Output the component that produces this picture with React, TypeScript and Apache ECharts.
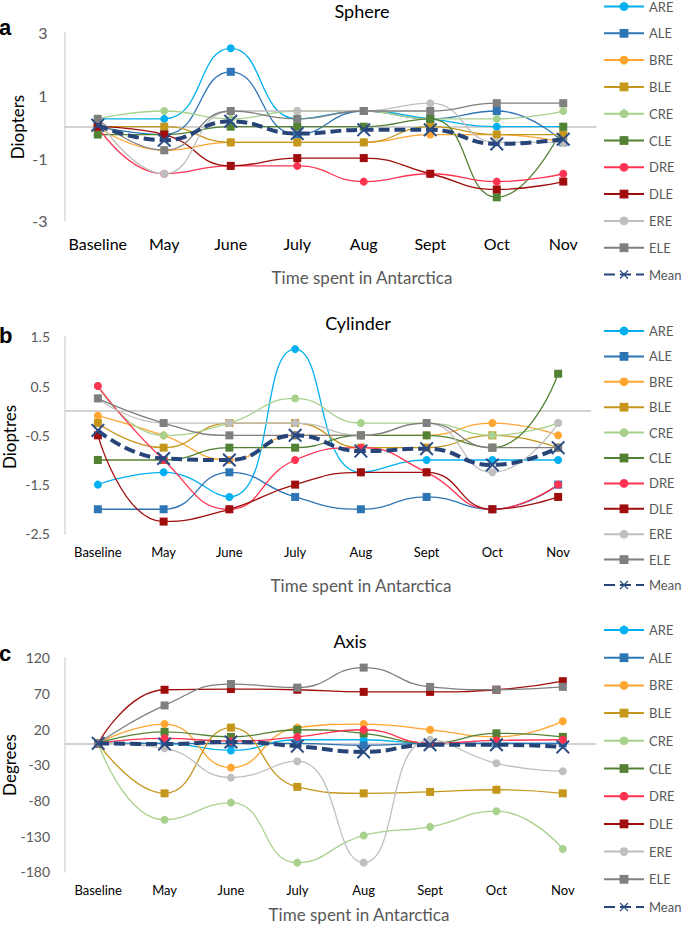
import React, { useEffect, useRef } from 'react';
import * as echarts from 'echarts';

const MONTHS = ['Baseline', 'May', 'June', 'July', 'Aug', 'Sept', 'Oct', 'Nov'];
const NAMES = ['ARE', 'ALE', 'BRE', 'BLE', 'CRE', 'CLE', 'DRE', 'DLE', 'ERE', 'ELE'];
const MEAN_NAME = 'Mean';

// Sphere (Diopters)
const SPH_ARE = [0.25, 0.25, 2.5, 0.25, 0.5, 0.25, 0, 0];
const SPH_ALE = [0, -0.25, 1.75, -0.25, 0.5, 0.25, 0.5, -0.5];
const SPH_BRE = [0, -0.75, -0.5, -0.5, -0.5, -0.25, -0.25, -0.5];
const SPH_BLE = [0, 0, -0.5, -0.5, -0.5, 0, -0.25, -0.25];
const SPH_CRE = [0.25, 0.5, 0.25, 0.5, 0.5, 0.25, 0.25, 0.5];
const SPH_CLE = [-0.25, -0.25, 0, 0, 0, 0.25, -2.25, 0];
const SPH_DRE = [0, -1.5, -1.25, -1.25, -1.75, -1.5, -1.75, -1.5];
const SPH_DLE = [0, -0.25, -1.25, -1, -1, -1.5, -2, -1.75];
const SPH_ERE = [0.25, -1.5, 0.5, 0.5, 0.5, 0.75, -0.5, -0.5];
const SPH_ELE = [0.25, -0.75, 0.5, 0.25, 0.5, 0.5, 0.75, 0.75];
const SPH_MEAN = [0.05, -0.43, 0.17, -0.22, -0.1, -0.1, -0.55, -0.4];
const SPH_TICKS = [3, 1, -1, -3];

// Cylinder (Dioptres)
const CYL_ARE = [-1.5, -1.25, -1.75, 1.25, -1.25, -1, -1, -1];
const CYL_ALE = [-2, -2, -1.25, -1.75, -2, -1.75, -2, -1.5];
const CYL_BRE = [-0.1, -0.5, -1, -0.5, -0.5, -0.5, -0.25, -0.5];
const CYL_BLE = [-0.25, -0.75, -0.25, -0.25, -0.75, -0.75, -0.5, -0.75];
const CYL_CRE = [0.5, -0.5, -0.25, 0.25, -0.25, -0.25, -0.5, -0.25];
const CYL_CLE = [-1, -1, -0.75, -0.75, -0.5, -0.5, -0.75, 0.75];
const CYL_DRE = [0.5, -1, -2, -1, -0.75, -1.25, -2, -1.5];
const CYL_DLE = [-0.5, -2.25, -2, -1.5, -1.25, -1.25, -2, -1.75];
const CYL_ERE = [0.25, -0.25, -0.25, -0.25, -0.5, -0.25, -1.25, -0.25];
const CYL_ELE = [0.25, -0.25, -0.5, -0.5, -0.5, -0.25, -0.75, -0.75];
const CYL_MEAN = [-0.4, -0.97, -1.0, -0.5, -0.82, -0.77, -1.1, -0.75];
const CYL_TICKS = [1.5, 0.5, -0.5, -1.5, -2.5];

// Axis (Degrees)
const AX_ARE = [0, 0, -10, 5, 5, 0, 0, 0];
const AX_ALE = [0, 0, 0, 0, -3, 0, 0, 0];
const AX_BRE = [0, 27, -34, 22, 27, 19, 9, 31];
const AX_BLE = [0, -70, 22, -61, -70, -68, -65, -70];
const AX_CRE = [0, -107, -83, -167, -129, -117, -95, -148];
const AX_CLE = [0, 16, 9, 19, 14, 0, 14, 9];
const AX_DRE = [0, 7, 3, 9, 19, 0, 4, 5];
const AX_DLE = [0, 75, 76, 75, 72, 72, 75, 87];
const AX_ERE = [0, -7, -48, -25, -167, 5, -28, -39];
const AX_ELE = [0, 53, 83, 78, 106, 79, 75, 79];
const AX_MEAN = [0, -1, 2, -4, -12, -2, -2, -5];
const AX_TICKS = [120, 70, 20, -30, -80, -130, -180];

const COLORS = ['#00B0F0', '#2E75B6', '#FFA632', '#C5961C', '#A9D18E', '#548235', '#FF3352', '#A00D0D', '#BFBFBF', '#7F7F7F'];
const MEAN_COLOR = '#264478';
const X_SYMBOL = 'path://M1,0 L5,4 L9,0 L10,1 L6,5 L10,9 L9,10 L5,6 L1,10 L0,9 L4,5 L0,1 Z';
const FONT = 'Lato, "Open Sans", sans-serif';

const PANELS = [
  {
    letter: 'a', title: 'Sphere', yName: 'Diopters',
    series: [SPH_ARE, SPH_ALE, SPH_BRE, SPH_BLE, SPH_CRE, SPH_CLE, SPH_DRE, SPH_DLE, SPH_ERE, SPH_ELE],
    mean: SPH_MEAN, ticks: SPH_TICKS, min: -3, max: 3, step: 1,
    grid: { left: 64.5, top: 32.6, width: 532, height: 188.2 },
    xFont: 16, yFont: 16, xMargin: 15, yMargin: 17,
    legendTop: 0, legendGap: 13.8,
    titleX: 362, titleY: 11, letterY: 27, yNameX: 17, yNameY: 127, xNameX: 362, xNameY: 277,
  },
  {
    letter: 'b', title: 'Cylinder', yName: 'Dioptres',
    series: [CYL_ARE, CYL_ALE, CYL_BRE, CYL_BLE, CYL_CRE, CYL_CLE, CYL_DRE, CYL_DLE, CYL_ERE, CYL_ELE],
    mean: CYL_MEAN, ticks: CYL_TICKS, min: -2.5, max: 1.5, step: 0.5,
    grid: { left: 65, top: 336.8, width: 526, height: 197.1 },
    xFont: 13, yFont: 14, xMargin: 12, yMargin: 15,
    legendTop: 324.5, legendGap: 12.4,
    titleX: 358, titleY: 323, letterY: 335, yNameX: 9, yNameY: 437, xNameX: 361, xNameY: 585,
  },
  {
    letter: 'c', title: 'Axis', yName: 'Degrees',
    series: [AX_ARE, AX_ALE, AX_BRE, AX_BLE, AX_CRE, AX_CLE, AX_DRE, AX_DLE, AX_ERE, AX_ELE],
    mean: AX_MEAN, ticks: AX_TICKS, min: -180, max: 120, step: 10,
    grid: { left: 65, top: 657.6, width: 531, height: 214.3 },
    xFont: 13, yFont: 14, xMargin: 11.5, yMargin: 15,
    legendTop: 623.5, legendGap: 14.7,
    titleX: 350, titleY: 640.5, letterY: 653.5, yNameX: 9, yNameY: 765, xNameX: 359, xNameY: 914,
  },
];

function buildOption() {
  const grid: any[] = [];
  const xAxis: any[] = [];
  const yAxis: any[] = [];
  const series: any[] = [];
  const legend: any[] = [];
  const graphic: any[] = [];

  PANELS.forEach((p, i) => {
    grid.push({ ...p.grid, containLabel: false });
    xAxis.push({
      gridIndex: i, type: 'category', data: MONTHS, boundaryGap: true,
      axisLine: { show: false }, axisTick: { show: false }, splitLine: { show: false },
      axisLabel: { color: '#000', fontSize: p.xFont, fontFamily: FONT, margin: p.xMargin, interval: 0 },
    });
    const ticks = p.ticks;
    yAxis.push({
      gridIndex: i, type: 'value', min: p.min, max: p.max, interval: p.step,
      axisLine: { show: true, lineStyle: { color: '#D9D9D9', width: 1.5 } },
      axisTick: { show: false }, splitLine: { show: false },
      axisLabel: {
        color: '#595959', fontSize: p.yFont, fontFamily: FONT, margin: p.yMargin,
        formatter: (v: number) => (ticks.some((t) => Math.abs(t - v) < 1e-6) ? String(v) : ''),
      },
    });
    p.series.forEach((d, j) => {
      const s: any = {
        type: 'line', name: NAMES[j], xAxisIndex: i, yAxisIndex: i, data: d,
        smooth: 0.5, symbol: j % 2 === 0 ? 'circle' : 'rect', symbolSize: 8,
        lineStyle: { color: COLORS[j], width: 1.3 }, itemStyle: { color: COLORS[j] },
        emphasis: { disabled: true }, z: 2,
      };
      if (j === 0) {
        s.markLine = {
          silent: true, symbol: ['none', 'none'], label: { show: false },
          lineStyle: { color: '#C4C4C4', width: 1.5, type: 'solid' },
          data: [{ yAxis: 0 }], z: 1,
        };
      }
      series.push(s);
    });
    series.push({
      type: 'line', name: MEAN_NAME, xAxisIndex: i, yAxisIndex: i, data: p.mean,
      smooth: 0.5, symbol: X_SYMBOL, symbolSize: 14,
      lineStyle: { color: MEAN_COLOR, width: 4, type: [11, 5] },
      itemStyle: { color: '#2B4C84' }, emphasis: { disabled: true }, z: 3,
    });
    legend.push({
      orient: 'vertical', left: 603, top: p.legendTop, padding: 0,
      itemWidth: 40, itemHeight: 11, itemGap: p.legendGap, selectedMode: false,
      data: [...NAMES, MEAN_NAME],
      textStyle: { color: '#595959', fontSize: 13, fontFamily: FONT },
    });
    graphic.push(
      { type: 'text', x: p.titleX, y: p.titleY, style: { text: p.title, font: `18px ${FONT}`, fill: '#000', align: 'center', verticalAlign: 'middle' } },
      { type: 'text', x: -1, y: p.letterY, style: { text: p.letter, font: `bold 22px "Liberation Sans", Arial, sans-serif`, fill: '#000', align: 'left', verticalAlign: 'middle' } },
      { type: 'text', x: p.yNameX, y: p.yNameY, rotation: Math.PI / 2, style: { text: p.yName, font: `17px ${FONT}`, fill: '#000', align: 'center', verticalAlign: 'middle' } },
      { type: 'text', x: p.xNameX, y: p.xNameY, style: { text: 'Time spent in Antarctica', font: `17px ${FONT}`, fill: '#595959', align: 'center', verticalAlign: 'middle' } },
    );
  });

  return { animation: false, backgroundColor: '#fff', grid, xAxis, yAxis, series, legend, graphic };
}

export default function App() {
  const ref = useRef<HTMLDivElement>(null);
  useEffect(() => {
    if (!ref.current) return;
    const chart = echarts.init(ref.current, null, { renderer: 'svg' });
    chart.setOption(buildOption() as any);
    return () => chart.dispose();
  }, []);
  return <div ref={ref} style={{ position: 'fixed', left: 0, top: 0, width: 685, height: 925, background: '#fff' }} />;
}
